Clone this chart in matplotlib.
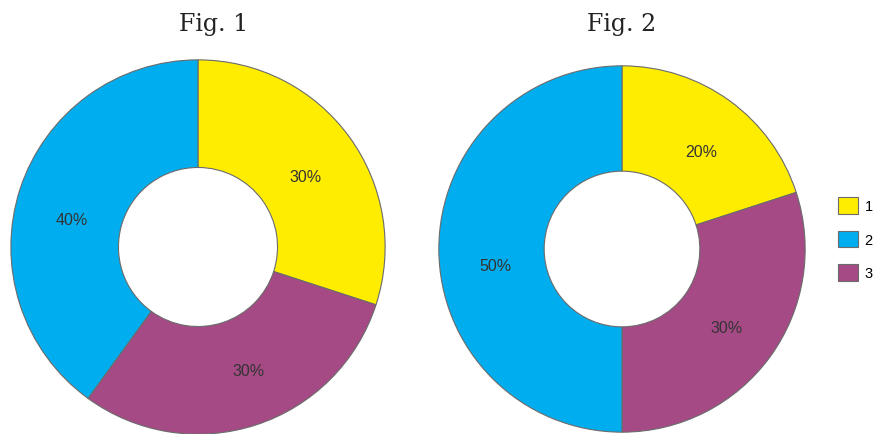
import matplotlib
matplotlib.use("Agg")
import matplotlib.pyplot as plt

categories = ["1", "2", "3"]
colors = ["#FFED00", "#00AEEF", "#A54A85"]
fig1_values = [30, 40, 30]
fig2_values = [20, 50, 30]
titles = ["Fig. 1", "Fig. 2"]
draw_order = [0, 2, 1]  # clockwise from top: 1, 3, 2

# label placement (layout only), in pie radius units, per category
label_pos = [
    {0: (0.577, 0.376), 1: (-0.672, 0.148), 2: (0.270, -0.661)},
    {0: (0.432, 0.535), 1: (-0.692, -0.092), 2: (0.568, -0.427)},
]

fig = plt.figure(figsize=(8.75, 4.35), dpi=100)
fig.patch.set_facecolor("white")

ax1 = fig.add_axes([9 / 875, -2 / 435, 378 / 875, 378 / 435])
ax2 = fig.add_axes([437 / 875, 0 / 435, 370 / 875, 370 / 435])

handles = None
for k, (ax, vals) in enumerate([(ax1, fig1_values), (ax2, fig2_values)]):
    v = [vals[i] for i in draw_order]
    c = [colors[i] for i in draw_order]
    wedges, texts, autotexts = ax.pie(
        v, colors=c, startangle=90, counterclock=False, radius=1.0,
        autopct=lambda p: f"{p:.0f}%", pctdistance=0.69,
        wedgeprops=dict(width=0.575, edgecolor="#6b6b6b", linewidth=0.8),
        textprops=dict(fontsize=11.5, color="#333333", family="Liberation Sans"),
    )
    for j, t in enumerate(autotexts):
        t.set_position(label_pos[k][draw_order[j]])
    ax.set_xlim(-1.01, 1.01)
    ax.set_ylim(-1.01, 1.01)
    ax.set_aspect("equal")
    ax.axis("off")
    if handles is None:
        handles = [wedges[draw_order.index(i)] for i in range(3)]

fig.text(214 / 875, 1 - 24 / 435, titles[0], ha="center", va="center",
         fontsize=17, family="DejaVu Serif", color="#222222")
fig.text(622 / 875, 1 - 24 / 435, titles[1], ha="center", va="center",
         fontsize=17, family="DejaVu Serif", color="#222222")

fs = 10.5
px = fs * 100 / 72
fig.legend(handles, categories, loc="center left",
           bbox_to_anchor=(838 / 875, (435 - 240) / 435),
           frameon=False, borderaxespad=0, borderpad=0,
           handlelength=20 / px, handleheight=20 / px,
           labelspacing=17 / px, handletextpad=0.45,
           prop=dict(family="Liberation Sans", size=fs))

fig.savefig("out.png", dpi=100, facecolor="white")
